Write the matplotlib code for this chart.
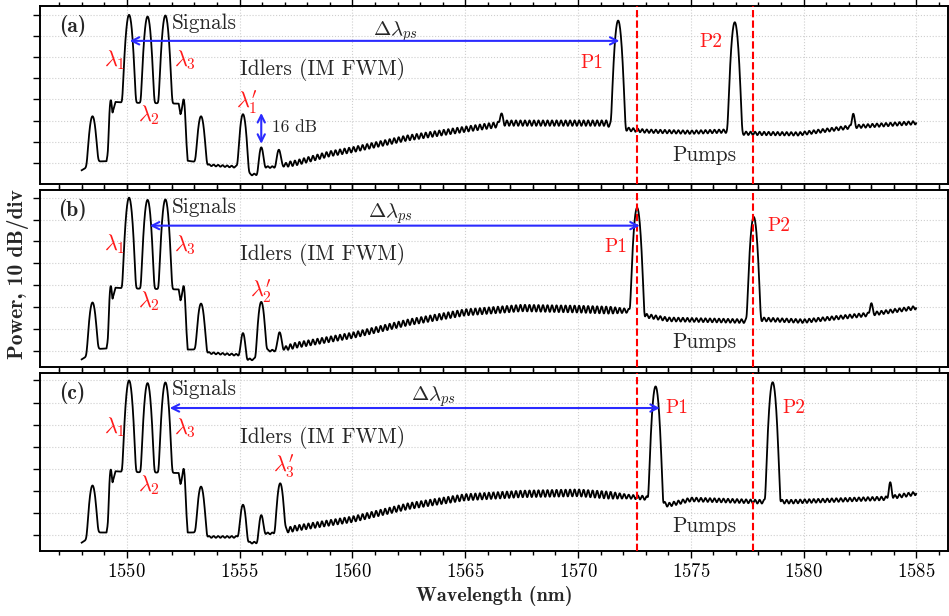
import numpy as np
import matplotlib
matplotlib.use("Agg")
import matplotlib.pyplot as plt
from matplotlib.ticker import MultipleLocator, NullFormatter

matplotlib.rcParams.update({
    "font.family": "serif",
    "font.serif": ["cmr10"],
    "mathtext.fontset": "cm",
    "axes.unicode_minus": False,
    "axes.formatter.use_mathtext": True,
})

# ─── data (wavelength in nm, power in dB) ───────────────────────────────────
# discrete lines: centre, peak level, gaussian width
PEAKS_A_WL = [1548.48, 1549.29, 1550.10, 1550.92, 1551.71, 1552.52, 1553.29,
              1555.15, 1555.96, 1556.74, 1566.60, 1571.78, 1576.95, 1582.20]
PEAKS_A_DB = [-48.0, -40.5, 0.0, -0.8, -0.3, -40.5, -48.0,
              -47.0, -63.0, -64.5, -48.4, -2.7, -3.5, -48.0]
PEAKS_A_W = [0.075, 0.035, 0.068, 0.068, 0.068, 0.035, 0.075,
             0.07, 0.06, 0.06, 0.05, 0.066, 0.066, 0.045]

PEAKS_B_WL = [1548.48, 1549.29, 1550.10, 1550.92, 1551.71, 1552.52, 1553.29,
              1555.15, 1555.96, 1556.77, 1572.62, 1577.79, 1583.00]
PEAKS_B_DB = [-48.0, -40.6, 0.0, -1.0, -0.8, -41.0, -48.5,
              -62.3, -47.7, -62.3, -4.6, -8.8, -50.0]
PEAKS_B_W = [0.075, 0.035, 0.068, 0.068, 0.068, 0.035, 0.075,
             0.06, 0.07, 0.06, 0.066, 0.066, 0.045]

PEAKS_C_WL = [1548.48, 1549.29, 1550.10, 1550.92, 1551.71, 1552.52, 1553.29,
              1555.15, 1555.96, 1556.80, 1573.44, 1578.63, 1583.84]
PEAKS_C_DB = [-47.7, -40.6, 0.0, -1.2, -0.9, -40.6, -48.2,
              -56.5, -61.5, -46.7, -2.7, -0.8, -47.4]
PEAKS_C_W = [0.075, 0.035, 0.068, 0.068, 0.068, 0.035, 0.075,
             0.07, 0.06, 0.07, 0.066, 0.066, 0.045]

# background level under the lines
BASE_A_WL = [1548.0, 1548.25, 1548.35, 1549.1, 1549.25, 1549.39, 1549.5, 1549.85,
             1552.3, 1552.38, 1552.45, 1552.6, 1552.7, 1553.0, 1553.55, 1555.0,
             1555.3, 1555.8, 1556.1, 1556.6, 1557.0, 1557.5, 1559.0, 1560.0,
             1562.4, 1565.0, 1566.4, 1566.8, 1571.3, 1571.5, 1572.1, 1573.0,
             1575.0, 1576.5, 1577.3, 1579.8, 1582.1, 1585.0]
BASE_A_DB = [-73.5, -72.0, -69.5, -69.2, -60.0, -45.5, -41.2, -41.5,
             -42.0, -47.0, -45.0, -55.0, -69.0, -69.5, -71.0, -72.0,
             -75.5, -75.5, -72.0, -72.0, -71.0, -70.0, -65.7, -63.8,
             -58.3, -54.1, -52.0, -51.2, -51.2, -53.0, -54.0, -55.0,
             -55.5, -55.0, -56.0, -56.3, -53.0, -51.0]

BASE_B_WL = [1548.0, 1548.25, 1548.35, 1549.1, 1549.25, 1549.39, 1549.5, 1549.85,
             1552.3, 1552.38, 1552.45, 1552.6, 1552.7, 1553.0, 1553.55, 1555.0,
             1555.3, 1555.8, 1556.1, 1556.6, 1557.0, 1557.5, 1560.0, 1562.5,
             1565.0, 1567.5, 1570.0, 1572.3, 1573.0, 1574.0, 1577.4, 1578.2,
             1580.0, 1582.9, 1585.0]
BASE_B_DB = [-74.0, -72.5, -69.5, -69.0, -60.0, -45.5, -41.2, -41.5,
             -42.0, -47.0, -45.0, -55.0, -69.5, -69.5, -71.0, -72.0,
             -74.0, -74.0, -70.0, -70.0, -69.0, -67.5, -63.0, -57.0,
             -52.5, -50.5, -51.0, -51.8, -54.0, -55.7, -56.5, -55.7,
             -56.5, -53.4, -50.3]

BASE_C_WL = [1548.0, 1548.25, 1548.35, 1549.1, 1549.25, 1549.39, 1549.5, 1549.85,
             1552.3, 1552.38, 1552.45, 1552.6, 1552.7, 1553.0, 1553.55, 1555.0,
             1555.3, 1555.8, 1556.1, 1556.6, 1557.1, 1557.5, 1560.0, 1562.5,
             1565.0, 1567.5, 1570.0, 1573.0, 1574.0, 1575.0, 1578.0, 1579.5,
             1583.6, 1585.0]
BASE_C_DB = [-73.6, -72.0, -69.0, -69.0, -60.0, -45.5, -41.2, -41.5,
             -42.0, -47.0, -45.0, -55.0, -69.0, -69.0, -71.0, -71.0,
             -73.6, -73.6, -69.4, -69.4, -68.0, -67.0, -63.0, -57.0,
             -53.0, -51.5, -51.0, -53.3, -56.5, -54.0, -55.0, -55.0,
             -53.5, -51.2]

# ripple of the background (peak amplitude, dB) and its period (nm)
RIPPLE_WL = [1548.0, 1553.4, 1553.6, 1556.8, 1557.2, 1571.4, 1572.2, 1585.0]
RIPPLE_A_DB = [0.0, 0.0, 0.4, 0.4, 1.2, 1.3, 0.8, 0.8]
RIPPLE_B_DB = [0.0, 0.0, 0.4, 0.4, 1.2, 1.6, 0.9, 0.8]
RIPPLE_C_DB = [0.0, 0.0, 0.4, 0.4, 1.2, 1.6, 0.9, 0.8]
RIPPLE_PERIOD = 0.2

PUMP_LINES = [1572.6, 1577.75]

# Δλps arrows: start, end, level
ARROW_A = (1550.13, 1571.84, -12.3)
ARROW_B = (1551.02, 1572.74, -12.8)
ARROW_C = (1551.90, 1573.63, -12.5)

WL = np.arange(1548.0, 1585.0, 0.01)

TXT = "#262626"
RED = "#ff1a1a"
BLUE = "#2b2bff"


def spectrum(base_wl, base_db, rip_db, p_wl, p_db, p_w):
    base = np.interp(WL, base_wl, base_db)
    base += np.interp(WL, RIPPLE_WL, rip_db) * np.sin(2 * np.pi * WL / RIPPLE_PERIOD)
    lin = 10 ** (base / 10)
    for c, h, w in zip(p_wl, p_db, p_w):
        lin += 10 ** (h / 10) * np.exp(-0.5 * ((WL - c) / w) ** 2)
    return 10 * np.log10(lin)


fig = plt.figure(figsize=(9.49, 6.16), dpi=100)
rects = [
    [0.0421, 0.7013, 0.9568, 0.2890],
    [0.0421, 0.4042, 0.9568, 0.2873],
    [0.0421, 0.1055, 0.9568, 0.2890],
]
ylims = [(-80.0, 4.2), (-77.5, 3.5), (-77.4, 3.4)]
axes = [fig.add_axes(r) for r in rects]

panels = [
    (BASE_A_WL, BASE_A_DB, RIPPLE_A_DB, PEAKS_A_WL, PEAKS_A_DB, PEAKS_A_W),
    (BASE_B_WL, BASE_B_DB, RIPPLE_B_DB, PEAKS_B_WL, PEAKS_B_DB, PEAKS_B_W),
    (BASE_C_WL, BASE_C_DB, RIPPLE_C_DB, PEAKS_C_WL, PEAKS_C_DB, PEAKS_C_W),
]

for i, (ax, data) in enumerate(zip(axes, panels)):
    ax.plot(WL, spectrum(*data), color="black", lw=1.3, zorder=3)
    for p in PUMP_LINES:
        ax.axvline(p, color="red", lw=1.5, ls=(0, (3.5, 1.5)), zorder=4)
    ax.set_xlim(1546.15, 1586.4)
    ax.set_ylim(*ylims[i])
    ax.xaxis.set_major_locator(MultipleLocator(5))
    ax.xaxis.set_minor_locator(MultipleLocator(1))
    ax.set_yticks(np.arange(-70, 1, 10))
    ax.yaxis.set_major_formatter(NullFormatter())
    ax.tick_params(axis="x", which="both", direction="out", top=True)
    ax.tick_params(axis="x", which="major", length=5, width=1.0, labelsize=13.5)
    ax.tick_params(axis="x", which="minor", length=3, width=1.0)
    ax.tick_params(axis="y", direction="out", length=5, width=1.0)
    ax.grid(True, which="major", color="#cfcfcf", ls=":", lw=0.8)
    for s in ax.spines.values():
        s.set_linewidth(1.4)
    if i < 2:
        ax.xaxis.set_major_formatter(NullFormatter())

# ─── annotations ─────────────────────────────────────────────────────────────
for ax, lab in zip(axes, ["(a)", "(b)", "(c)"]):
    ax.text(1547.6, -5.5, lab, fontfamily="cmb10", fontsize=15.5, color=TXT,
            ha="center", va="center")
    ax.text(1552.0, -4.2, "Signals", fontsize=15.3, color=TXT, va="center")
    ax.text(1549.47, -21.2, r"$\lambda_1$", fontsize=16, color=RED, ha="center", va="center")
    ax.text(1550.97, -47.5, r"$\lambda_2$", fontsize=16, color=RED, ha="center", va="center")
    ax.text(1552.57, -21.5, r"$\lambda_3$", fontsize=16, color=RED, ha="center", va="center")
    ax.text(1555.0, -25.8, "Idlers (IM FWM)", fontsize=15.3, color=TXT, va="center")
    ax.text(1575.6, -66.2, "Pumps", fontsize=15.3, color=TXT, ha="center", va="center")

for ax, (x0, x1, y), tx, ty in zip(axes, [ARROW_A, ARROW_B, ARROW_C],
                                   [1561.93, 1561.7, 1563.6], [-8.0, -7.5, -7.5]):
    ax.annotate("", xy=(x1, y), xytext=(x0, y),
                arrowprops=dict(arrowstyle="<->", color=BLUE, lw=1.5,
                                mutation_scale=13, shrinkA=0, shrinkB=0), zorder=5)
    ax.text(tx, ty, r"$\Delta\lambda_{ps}$", fontsize=15, color=TXT,
            ha="center", va="center")

ax_a, ax_b, ax_c = axes
ax_a.text(1555.3, -41.5, r"$\lambda_1'$", fontsize=16, color=RED, ha="center", va="center")
ax_a.annotate("", xy=(1555.96, -61.0), xytext=(1555.96, -46.4),
              arrowprops=dict(arrowstyle="<->", color=BLUE, lw=1.5,
                              mutation_scale=13, shrinkA=0, shrinkB=0))
ax_a.text(1556.45, -53.4, "16 dB", fontsize=12.5, color=TXT, va="center")
ax_a.text(1570.6, -22.6, "P1", fontsize=14, color=RED, ha="center", va="center")
ax_a.text(1575.9, -12.7, "P2", fontsize=14, color=RED, ha="center", va="center")

ax_b.text(1555.96, -42.8, r"$\lambda_2'$", fontsize=16, color=RED, ha="center", va="center")
ax_b.text(1571.67, -22.5, "P1", fontsize=14, color=RED, ha="center", va="center")
ax_b.text(1578.9, -12.8, "P2", fontsize=14, color=RED, ha="center", va="center")

ax_c.text(1556.95, -39.0, r"$\lambda_3'$", fontsize=16, color=RED, ha="center", va="center")
ax_c.text(1574.4, -12.5, "P1", fontsize=14, color=RED, ha="center", va="center")
ax_c.text(1579.56, -12.5, "P2", fontsize=14, color=RED, ha="center", va="center")

ax_c.set_xlabel("Wavelength (nm)", fontfamily="cmb10", fontsize=14.5, color=TXT, labelpad=4)
fig.text(0.019, 0.555, "Power, 10 dB/div", fontfamily="cmb10", fontsize=15.5,
         color=TXT, rotation=90, ha="center", va="center")

fig.savefig("out.png", dpi=100)
